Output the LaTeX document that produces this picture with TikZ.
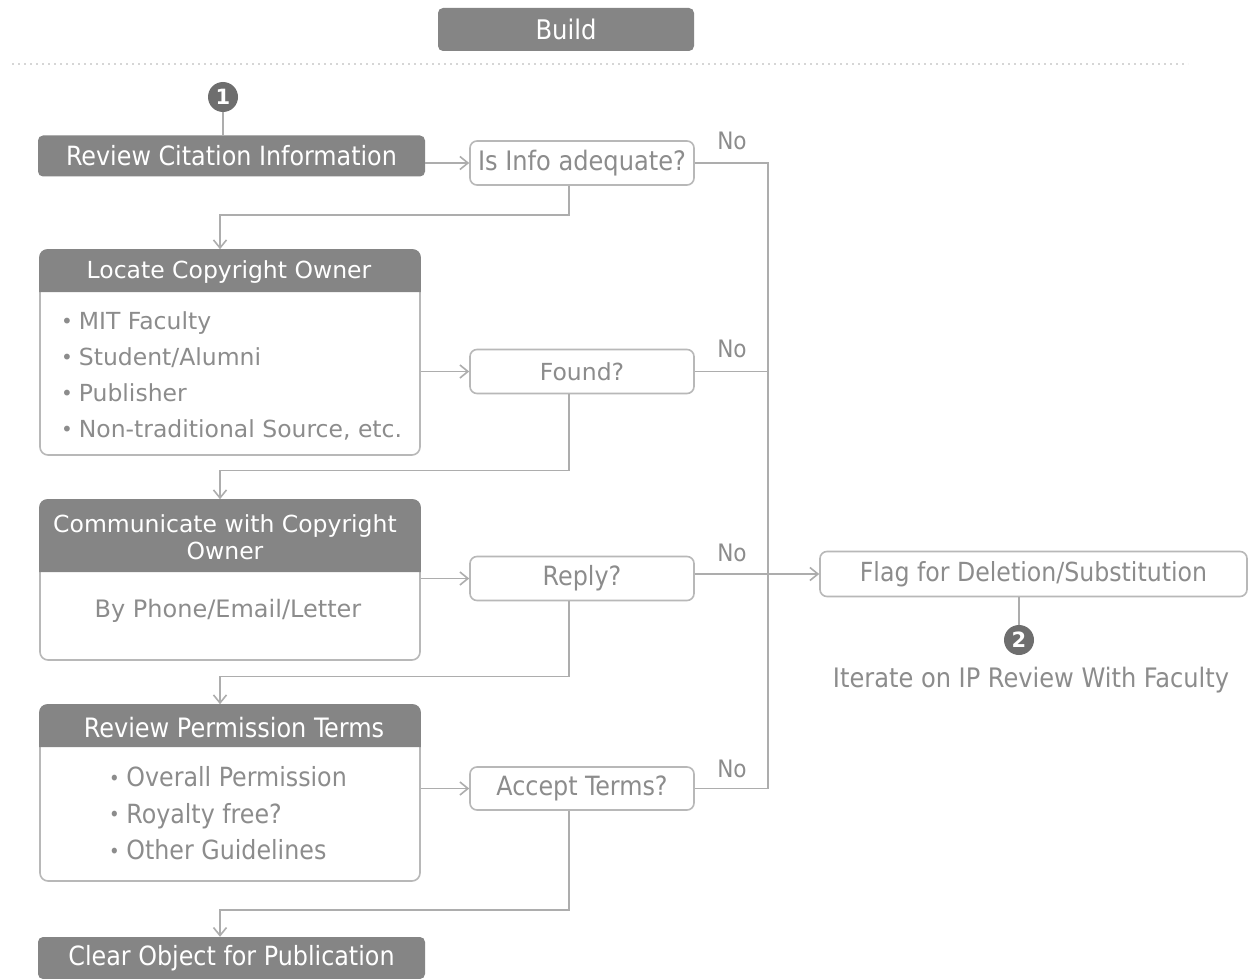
\documentclass[tikz,border=0pt]{standalone}
\usepackage{fontspec}
\setmainfont{DejaVu Sans}
\newfontfamily\condfont{DejaVu Sans Condensed}
\usetikzlibrary{arrows.meta}
\definecolor{boxdark}{HTML}{858585}
\definecolor{rim}{HTML}{B8B8B8}
\definecolor{wirecol}{HTML}{ADADAD}
\definecolor{ink}{HTML}{8C8C8C}
\definecolor{badge}{HTML}{6E6E6E}
\definecolor{dots}{HTML}{D6D6D6}

\newcommand{\cf}[1]{\condfont\fontsize{#1}{#1}\selectfont}
\newcommand{\vf}[1]{\fontsize{#1}{#1}\selectfont}
\newcommand{\dotmark}{\raisebox{0.1ex}{\fontsize{20}{20}\selectfont •}\hspace{0.25em}}

\begin{document}
\begin{tikzpicture}[x=1pt,y=-1pt,
  darkbox/.style={rectangle, rounded corners=5pt, fill=boxdark, text=white, inner sep=0pt},
  ask/.style={rectangle, rounded corners=7pt, draw=rim, line width=1.6pt, fill=white,
    text=ink, minimum width=224pt, minimum height=44pt, inner sep=0pt},
  panel/.style={rectangle, rounded corners=8pt, draw=rim, line width=1.6pt,
    minimum width=380pt, inner sep=0pt},
  headtext/.style={text=white, inner sep=0pt, align=center},
  bodytext/.style={text=ink, inner sep=0pt},
  itemlist/.style={text=ink, inner sep=0pt, align=left, anchor=west},
  badgenode/.style={circle, fill=badge, text=white, minimum size=30pt, inner sep=0pt,
    font=\bfseries\vf{21}},
  nolabel/.style={text=ink, inner sep=0pt, font=\cf{24}},
  wire/.style={draw=wirecol, line width=1.6pt},
  arr/.style={wire, -{Straight Barb[length=8pt,width=13pt,line width=1.6pt]}},
  dotline/.style={draw=dots, line width=2.2pt, dash pattern=on 2.2pt off 3.8pt}
]
\useasboundingbox (0,0) rectangle (1248,979);
\fill[white] (0,0) rectangle (1248,979);

% stage title and separator
\node[darkbox, minimum width=256pt, minimum height=43pt, font=\cf{27}] (build) at (566,29.5) {Build};
\draw[dotline] (12,64) -- (1188,64);

% step 1
\node[darkbox, minimum width=387pt, minimum height=41pt, font=\cf{26.5}] (cite) at (231.5,156) {Review Citation Information};
\node[badgenode] (one) at (223,97) {1};
\node[ask, font=\cf{26.8}] (info) at (582,163) {Is Info adequate?};

% locate owner
\node[panel, minimum height=205pt] (locate) at (230,352.5) {};
\fill[boxdark] ([yshift=-43pt]locate.north west) [rounded corners=8pt] -- (locate.north west)
  -- (locate.north east) [sharp corners] -- ([yshift=-43pt]locate.north east) -- cycle;
\node[headtext, font=\vf{23.5}] (locateHead) at (229,272) {Locate Copyright Owner};
\node[itemlist, font=\fontsize{23.5}{36}\selectfont] (locateList) at (61,376) {%
  \dotmark MIT Faculty\\ \dotmark Student/Alumni\\ \dotmark Publisher\\ \dotmark Non-traditional Source, etc.};
\node[ask, font=\vf{23.5}] (found) at (582,371.5) {Found?};

% communicate with owner
\node[panel, minimum height=160pt] (comm) at (230,580) {};
\fill[boxdark] ([yshift=-73pt]comm.north west) [rounded corners=8pt] -- (comm.north west)
  -- (comm.north east) [sharp corners] -- ([yshift=-73pt]comm.north east) -- cycle;
\node[headtext, font=\fontsize{23.5}{27}\selectfont] (commHead) at (225,537) {Communicate with Copyright\\Owner};
\node[bodytext, font=\vf{24}] (commBody) at (228,611) {By Phone/Email/Letter};
\node[ask, font=\cf{26.5}] (reply) at (582,578.5) {Reply?};

% review permission terms
\node[panel, minimum height=176pt] (perm) at (230,793) {};
\fill[boxdark] ([yshift=-43pt]perm.north west) [rounded corners=8pt] -- (perm.north west)
  -- (perm.north east) [sharp corners] -- ([yshift=-43pt]perm.north east) -- cycle;
\node[headtext, font=\cf{26.7}] (permHead) at (234,727.5) {Review Permission Terms};
\node[itemlist, font=\condfont\fontsize{26.4}{36.5}\selectfont] (permList) at (109,813.5) {%
  \dotmark Overall Permission\\ \dotmark Royalty free?\\ \dotmark Other Guidelines};
\node[ask, minimum height=43pt, font=\cf{26.5}] (accept) at (582,788.5) {Accept Terms?};

% final step
\node[darkbox, minimum width=387pt, minimum height=42pt, font=\cf{26.5}] (clear) at (231.5,958) {Clear Object for Publication};

% rejection branch
\node[ask, minimum width=427pt, minimum height=45pt, font=\cf{26.3}] (flag) at (1033.5,574) {Flag for Deletion/Substitution};
\node[badgenode] (two) at (1019,640) {2};
\node[bodytext, font=\cf{26.8}] (iterate) at (1031,680) {Iterate on IP Review With Faculty};

\node[nolabel] (no1) at (732,141) {No};
\node[nolabel] (no2) at (732,349) {No};
\node[nolabel] (no3) at (732,553) {No};
\node[nolabel] (no4) at (732,769) {No};

% connectors
\coordinate (busTop) at (768,163);
\coordinate (busBot) at (768,788.5);
\draw[wire] (one.south) -- (one.south |- cite.north);
\draw[arr] (info.west -| cite.east) -- (info.west);
\draw[arr] ([xshift=-13pt]info.south) -- ++(0,29) -| ([xshift=-10pt]locate.north);
\draw[wire] (info.east) -- (busTop) -- (busBot) -- (accept.east);
\draw[wire] (found.east) -- (found.east -| busTop);
\draw[arr] (found.west -| locate.east) -- (found.west);
\draw[arr] ([xshift=-13pt]found.south) -- ++(0,76) -| ([xshift=-10pt]comm.north);
\draw[arr] (reply.west -| comm.east) -- (reply.west);
\draw[arr] (flag.west -| reply.east) -- (flag.west);
\draw[arr] ([xshift=-13pt]reply.south) -- ++(0,75) -| ([xshift=-10pt]perm.north);
\draw[arr] (accept.west -| perm.east) -- (accept.west);
\draw[arr] ([xshift=-13pt]accept.south) -- ++(0,99) -| ([xshift=-11.5pt]clear.north);
\draw[wire] (flag.south -| two) -- (two.north);
\end{tikzpicture}
\end{document}
